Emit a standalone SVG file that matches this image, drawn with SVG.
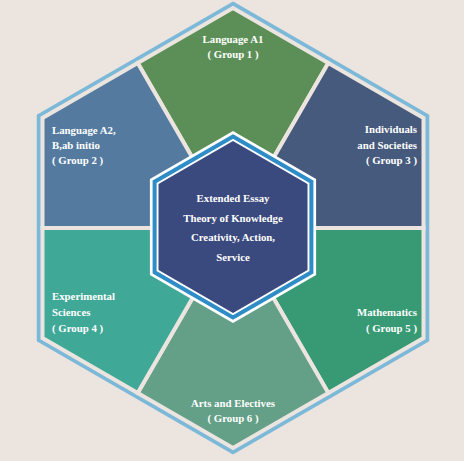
<svg xmlns="http://www.w3.org/2000/svg" width="464" height="461" viewBox="0 0 464 461">
<style>
.seg{stroke:#ece5df;stroke-width:4;stroke-linejoin:miter}
.t{font-family:"Liberation Serif","Times New Roman",serif;font-weight:bold;font-size:10.8px;fill:#ffffff}
.m{text-anchor:middle}
.e{text-anchor:end}
</style>
<rect width="464" height="461" fill="#ece5df"/>
<polygon id="outer-border" points="233,4 427,116 427,340 233,452 39,340 39,116" fill="none" stroke="#7cb8d8" stroke-width="4.5"/>
<g id="connectors"></g>
<g id="group1">
<polygon class="seg" fill="#5c8f57" points="233,228 137.7,63 233,8 328.3,63"/>
<text class="t m" x="233" y="43">Language A1</text>
<text class="t m" x="233" y="58">( Group 1 )</text>
</g>
<g id="group3">
<polygon class="seg" fill="#455a7c" points="233,228 328.3,63 423.5,118 423.5,228"/>
<text class="t e" x="417" y="133">Individuals</text>
<text class="t e" x="417" y="149">and Societies</text>
<text class="t e" x="417" y="164">( Group 3 )</text>
</g>
<g id="group5">
<polygon class="seg" fill="#389a74" points="233,228 423.5,228 423.5,338 328.3,393"/>
<text class="t e" x="417" y="316">Mathematics</text>
<text class="t e" x="417" y="332">( Group 5 )</text>
</g>
<g id="group6">
<polygon class="seg" fill="#64a087" points="233,228 328.3,393 233,448 137.7,393"/>
<text class="t m" x="233" y="407">Arts and Electives</text>
<text class="t m" x="233" y="422">( Group 6 )</text>
</g>
<g id="group4">
<polygon class="seg" fill="#3fa897" points="233,228 137.7,393 42.5,338 42.5,228"/>
<text class="t" x="52" y="300">Experimental</text>
<text class="t" x="52" y="316">Sciences</text>
<text class="t" x="52" y="332">( Group 4 )</text>
</g>
<g id="group2">
<polygon class="seg" fill="#547b9f" points="233,228 42.5,228 42.5,118 137.7,63"/>
<text class="t" x="52" y="134">Language A2,</text>
<text class="t" x="52" y="149">B,ab initio</text>
<text class="t" x="52" y="164">( Group 2 )</text>
</g>
<g id="core">
<polygon points="233,131 316.1,179 316.1,275 233,323 149.9,275 149.9,179" fill="#ffffff"/>
<polygon points="233,136.5 311.4,181.75 311.4,272.25 233,317.5 154.6,272.25 154.6,181.75" fill="none" stroke="#2e8cc6" stroke-width="4"/>
<polygon points="233,141 307.5,184 307.5,270 233,313 158.5,270 158.5,184" fill="#3b4a7e"/>
<text class="t m" x="233" y="202">Extended Essay</text>
<text class="t m" x="233" y="222">Theory of Knowledge</text>
<text class="t m" x="233" y="241">Creativity, Action,</text>
<text class="t m" x="233" y="261">Service</text>
</g>
</svg>
